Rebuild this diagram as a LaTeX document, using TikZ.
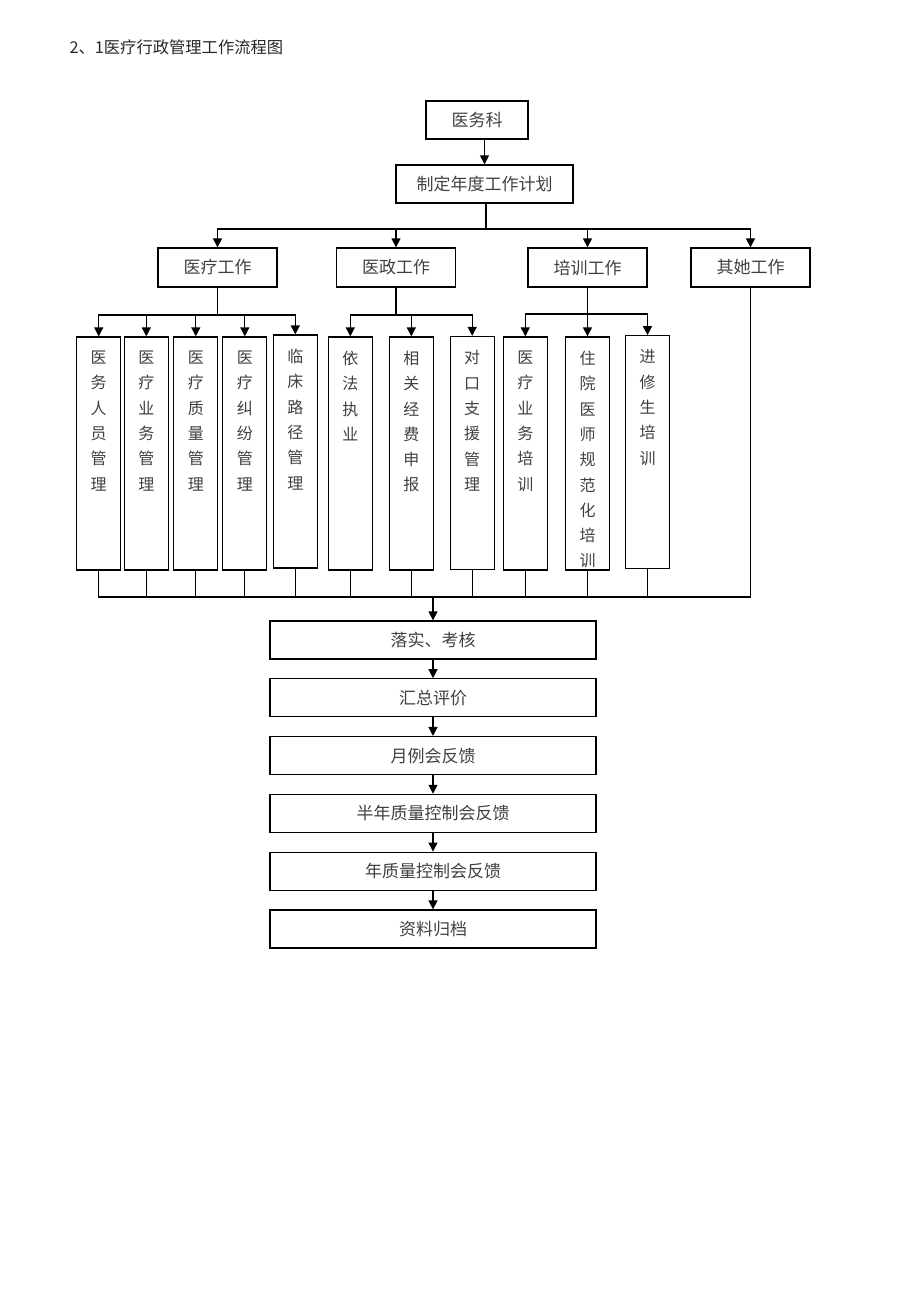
\documentclass[tikz,border=0pt]{standalone}
\usepackage{fontspec}
\setmainfont{Noto Sans CJK SC}
\usetikzlibrary{arrows.meta}
\usetikzlibrary{positioning}
\newcommand{\vcol}[1]{\parbox[c][221pt][t]{18pt}{\fontsize{16}{25.3}\selectfont\vspace*{8pt}\centering #1}}

\begin{document}
\begin{tikzpicture}
		[x=1pt,y=-1pt,
		 font=\fontsize{17}{20}\selectfont,text=black!75,
		 head/.style={rectangle,draw,line width=1.3pt,minimum width=102pt,minimum height=38pt},
		 group/.style={rectangle,draw,line width=1.3pt,minimum width=119pt,minimum height=39pt},
		 tall/.style={rectangle,draw,line width=1.3pt,minimum width=44pt,inner sep=6pt},
		 flowbox/.style={rectangle,draw,line width=1.3pt,minimum width=326pt,minimum height=38pt},
		 wire/.style={line width=1.3pt},
		 feeds/.style={wire,-{Triangle[length=9pt,width=9pt]}}]

		\useasboundingbox (0,0) rectangle (920,1301);

		\node[anchor=west,text=black!85,font=\fontsize{16.3}{19}\selectfont] (title) at (66,47) {2、1医疗行政管理工作流程图};

		\node[head] (yiwuke) at (477,120) {医务科};
		\node[flowbox,minimum width=177pt] (jihua) at (484.5,184) {制定年度工作计划};
		\draw[feeds] (yiwuke.south -| jihua.north) -- (jihua.north);

		% second row
		\node[group] (yiliao) at (217.5,267.5) {医疗工作};
		\node[group] (yizheng) at (396,267.5) {医政工作};
		\node[group] (peixun) at (587.5,267.5) {培训工作};
		\node[group] (qita) at (750.5,267.5) {其她工作};
		\coordinate (bus1) at (486,229);
		\draw[wire] (jihua.south -| bus1) -- (bus1);
		\draw[feeds] (bus1) -| (yiliao.north);
		\draw[feeds] (bus1) -| (yizheng.north);
		\draw[feeds] (bus1) -| (peixun.north);
		\draw[feeds] (bus1) -| (qita.north);

		% columns
		\node[tall] (renyuan) at (98.7,453.5) {\vcol{医\\务\\人\\员\\管\\理}};
		\node[tall] (yewu) at (146.3,453.5) {\vcol{医\\疗\\业\\务\\管\\理}};
		\node[tall] (zhiliang) at (195.8,453.5) {\vcol{医\\疗\\质\\量\\管\\理}};
		\node[tall] (jiufen) at (244.8,453.5) {\vcol{医\\疗\\纠\\纷\\管\\理}};
		\node[tall] (lujing) at (295.3,451.5) {\vcol{临\\床\\路\\径\\管\\理}};
		\node[tall] (zhiye) at (350.3,453.5) {\vcol{依\\法\\执\\业}};
		\node[tall] (jingfei) at (411.3,453.5) {\vcol{相\\关\\经\\费\\申\\报}};
		\node[tall] (zhiyuan) at (472.2,453) {\vcol{对\\口\\支\\援\\管\\理}};
		\node[tall] (yewupx) at (525.3,453.5) {\vcol{医\\疗\\业\\务\\培\\训}};
		\node[tall] (zhuyuan) at (587.5,453.5) {\vcol{住\\院\\医\\师\\规\\范\\化\\培\\训}};
		\node[tall] (jinxiu) at (647.5,452.3) {\vcol{进\\修\\生\\培\\训}};

		\coordinate (bus2) at (217.5,315);
		\draw[wire] (yiliao.south) -- (bus2);
		\draw[feeds] (bus2) -| (renyuan.north);
		\draw[feeds] (bus2) -| (yewu.north);
		\draw[feeds] (bus2) -| (zhiliang.north);
		\draw[feeds] (bus2) -| (jiufen.north);
		\draw[feeds] (bus2) -| (lujing.north);

		\coordinate (bus3) at (396,315);
		\draw[wire] (yizheng.south) -- (bus3);
		\draw[feeds] (bus3) -| (zhiye.north);
		\draw[feeds] (bus3) -| (jingfei.north);
		\draw[feeds] (bus3) -| (zhiyuan.north);

		\coordinate (bus4) at (587.5,314);
		\draw[wire] (peixun.south) -- (bus4);
		\draw[feeds] (bus4) -| (yewupx.north);
		\draw[feeds] (bus4) -| (zhuyuan.north);
		\draw[feeds] (bus4) -| (jinxiu.north);

		% gathering line
		\coordinate (bus5) at (433,597);
		\draw[wire] (renyuan.south) |- (bus5);
		\draw[wire] (yewu.south) |- (bus5);
		\draw[wire] (zhiliang.south) |- (bus5);
		\draw[wire] (jiufen.south) |- (bus5);
		\draw[wire] (lujing.south) |- (bus5);
		\draw[wire] (zhiye.south) |- (bus5);
		\draw[wire] (jingfei.south) |- (bus5);
		\draw[wire] (zhiyuan.south) |- (bus5);
		\draw[wire] (yewupx.south) |- (bus5);
		\draw[wire] (zhuyuan.south) |- (bus5);
		\draw[wire] (jinxiu.south) |- (bus5);
		\draw[wire] (qita.south) |- (bus5);

		% follow-up chain
		\node[flowbox] (luoshi) at (433,640) {落实、考核};
		\node[flowbox] (huizong) [below=18.5pt of luoshi] {汇总评价};
		\node[flowbox] (yuelihui) [below=18.5pt of huizong] {月例会反馈};
		\node[flowbox] (bannian) [below=18.5pt of yuelihui] {半年质量控制会反馈};
		\node[flowbox] (nianzhi) [below=18.5pt of bannian] {年质量控制会反馈};
		\node[flowbox] (ziliao) [below=18.5pt of nianzhi] {资料归档};
		\draw[feeds] (bus5) -- (luoshi);
		\draw[feeds] (luoshi) -- (huizong);
		\draw[feeds] (huizong) -- (yuelihui);
		\draw[feeds] (yuelihui) -- (bannian);
		\draw[feeds] (bannian) -- (nianzhi);
		\draw[feeds] (nianzhi) -- (ziliao);
	\end{tikzpicture}
\end{document}
